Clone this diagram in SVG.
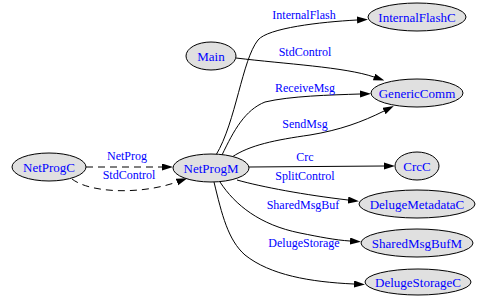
<svg xmlns="http://www.w3.org/2000/svg" width="487" height="296" viewBox="0 0 487 296">
  <style>
    .node ellipse { fill: #e0e0e0; stroke: #000; stroke-width: 1; }
    .node text { font-family: "Liberation Serif", "Times New Roman", serif; font-size: 13px; fill: #0000ff; text-anchor: middle; }
    .edge { fill: none; stroke: #000; stroke-width: 1; marker-end: url(#arrow); }
    .dashed { stroke-dasharray: 7 5; }
    .elabel { font-family: "Liberation Serif", "Times New Roman", serif; font-size: 12px; fill: #0000ff; text-anchor: middle; }
  </style>
  <defs>
    <marker id="arrow" markerUnits="userSpaceOnUse" markerWidth="11" markerHeight="8" refX="0" refY="3.5" orient="auto">
      <path d="M0,0 L11,3.5 L0,7 z" fill="#000"/>
    </marker>
  </defs>
  <rect width="487" height="296" fill="#fff"/>

  <g id="connectors">
    <!-- NetProgC -> NetProgM -->
    <path class="edge dashed" d="M86,167 L162,167"/>
    <path class="edge dashed" d="M72,179 C90,193 140,195 177,182"/>
    <!-- NetProgM -> InternalFlashC -->
    <path class="edge" d="M216,155 C236,122 242,60 258,40 C268,28 320,22 357,20"/>
    <!-- Main -> GenericComm -->
    <path class="edge" d="M236,58 C285,64 345,67 374,77"/>
    <!-- NetProgM -> GenericComm (ReceiveMsg) -->
    <path class="edge" d="M222,155 C234,130 245,110 265,102 C290,96 330,95 360,94"/>
    <!-- NetProgM -> GenericComm (SendMsg) -->
    <path class="edge" d="M232,157 C250,145 275,140 310,135 C340,130 362,122 384,111"/>
    <!-- NetProgM -> CrcC -->
    <path class="edge" d="M249,167 L384,166"/>
    <!-- NetProgM -> DelugeMetadataC -->
    <path class="edge" d="M237,180 C262,187 305,195 348,200"/>
    <!-- NetProgM -> SharedMsgBufM -->
    <path class="edge" d="M220,182 C235,205 260,225 300,233 C320,237 335,240 350,241"/>
    <!-- NetProgM -> DelugeStorageC -->
    <path class="edge" d="M214,182 C222,215 228,240 245,255 C270,275 310,282 354,284"/>

    <text class="elabel" x="127" y="160">NetProg</text>
    <text class="elabel" x="129" y="179">StdControl</text>
    <text class="elabel" x="304" y="19">InternalFlash</text>
    <text class="elabel" x="305" y="56">StdControl</text>
    <text class="elabel" x="305" y="92">ReceiveMsg</text>
    <text class="elabel" x="305" y="128">SendMsg</text>
    <text class="elabel" x="305" y="161">Crc</text>
    <text class="elabel" x="305" y="180">SplitControl</text>
    <text class="elabel" x="303" y="209">SharedMsgBuf</text>
    <text class="elabel" x="304" y="247">DelugeStorage</text>
  </g>

  <g id="NetProgC" class="node">
    <ellipse cx="49" cy="167" rx="37" ry="14"/>
    <text x="49" y="171.5">NetProgC</text>
  </g>
  <g id="NetProgM" class="node">
    <ellipse cx="211" cy="168" rx="38" ry="14"/>
    <text x="211" y="172.5">NetProgM</text>
  </g>
  <g id="Main" class="node">
    <ellipse cx="211" cy="56" rx="25" ry="14"/>
    <text x="211" y="60.5">Main</text>
  </g>
  <g id="InternalFlashC" class="node">
    <ellipse cx="417" cy="17" rx="49" ry="14"/>
    <text x="417" y="21.5">InternalFlashC</text>
  </g>
  <g id="GenericComm" class="node">
    <ellipse cx="417" cy="93" rx="46" ry="14"/>
    <text x="417" y="97.5">GenericComm</text>
  </g>
  <g id="CrcC" class="node">
    <ellipse cx="417" cy="166" rx="22" ry="14"/>
    <text x="417" y="170.5">CrcC</text>
  </g>
  <g id="DelugeMetadataC" class="node">
    <ellipse cx="417" cy="204" rx="58" ry="14"/>
    <text x="417" y="208.5">DelugeMetadataC</text>
  </g>
  <g id="SharedMsgBufM" class="node">
    <ellipse cx="417" cy="243" rx="56" ry="14"/>
    <text x="417" y="247.5">SharedMsgBufM</text>
  </g>
  <g id="DelugeStorageC" class="node">
    <ellipse cx="418" cy="282" rx="53" ry="13"/>
    <text x="418" y="286.5">DelugeStorageC</text>
  </g>
</svg>
